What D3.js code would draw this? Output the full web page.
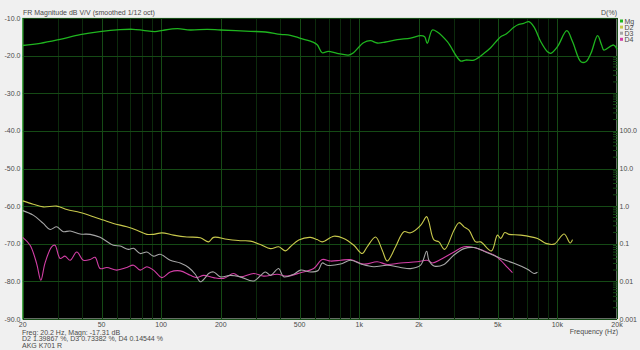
<!DOCTYPE html>
<html>
<head>
<meta charset="utf-8">
<script src="https://cdn.jsdelivr.net/npm/d3@7/dist/d3.min.js"></script>
<style>
  body { margin: 0; background: #f0f0f0; }
  svg { display: block; font-family: "Liberation Sans", Arial, sans-serif; }
  .lbl { fill: #4a4a4a; font-size: 7px; }
</style>
</head>
<body>
<svg id="chart" width="640" height="350"></svg>
<script>
// Frequency ticks (Hz) and their labels
const freqTicks = [20, 50, 100, 200, 500, 1000, 2000, 5000, 10000, 20000];
const freqLabels = ['20', '50', '100', '200', '500', '1k', '2k', '5k', '10k', '20k'];
const dbTicks = [-10, -20, -30, -40, -50, -60, -70, -80, -90];
const pctTicks = [0.001, 0.01, 0.1, 1, 10, 100];
const pctLabels = ['0.001', '0.01', '0.1', '1.0', '10.0', '100.0'];

// Magnitude response, [Hz, dB]
const magnitude = [
  [20, -17.31], [24.5, -16.73], [30.9, -15.66], [39, -14.44], [49, -13.64], [62, -13.11],
  [72, -13.0], [81, -13.27], [93, -13.64], [102, -13.27], [121, -12.85], [140, -13.19],
  [171, -13.0], [199, -13.19], [282, -13.54], [336, -13.72], [400, -14.34], [449, -14.6],
  [505, -15.4], [588, -16.46], [615, -17.18], [650, -19.23], [698, -18.86], [773, -19.39],
  [883, -19.84], [935, -19.23], [1050, -16.57], [1140, -16.04], [1232, -16.65], [1358, -16.38],
  [1556, -15.77], [1816, -15.32], [2041, -14.71], [2138, -14.97], [2204, -16.73], [2338, -13.19],
  [2477, -13.72], [2784, -16.3], [3251, -21.44], [3444, -21.17], [3794, -21.17], [4264, -19.39],
  [4604, -17.9], [5176, -14.97], [5486, -14.34], [6025, -12.47], [6288, -11.86], [6765, -11.41],
  [7175, -10.98], [7603, -12.31], [8248, -16.3], [8915, -18.96], [9260, -19.39], [10010, -17.63],
  [11163, -13.38], [11936, -16.3], [13150, -21.62], [13930, -21.62], [14770, -19.39], [15960, -14.71],
  [16720, -17.18], [17180, -18.51], [19230, -17.18], [20000, -18.32]
];

// 2nd harmonic distortion, [Hz, dB]
const dist2 = [
  [20, -58.6], [22.6, -59.5], [25.4, -60.2], [29.7, -60.0], [33.4, -60.9], [39, -61.7],
  [45.5, -62.8], [51.1, -63.7], [57.4, -64.6], [67.1, -65.5], [75.4, -66.4], [84.7, -67.5],
  [91.5, -67.5], [100.9, -67.1], [115.4, -67.7], [134.9, -68.2], [157.6, -68.4], [173.5, -69.5],
  [183.9, -68.3], [215, -68.8], [251, -69.2], [282, -69.3], [317, -70.2], [356, -71.3],
  [392, -70.8], [424, -71.9], [449, -70.8], [495, -69.0], [567, -68.3], [613, -68.9],
  [650, -69.5], [744, -68.0], [835, -68.6], [939, -70.4], [1035, -72.6], [1097, -70.8],
  [1208, -68.2], [1306, -71.7], [1384, -74.6], [1525, -70.8], [1680, -66.8], [1816, -67.1],
  [2040, -65.1], [2188, -62.8], [2246, -64.2], [2382, -69.0], [2524, -69.5], [2698, -71.5],
  [3006, -66.4], [3186, -64.4], [3378, -65.5], [3580, -66.4], [3870, -69.5], [4102, -69.5],
  [4646, -71.9], [4982, -67.7], [5178, -68.6], [5426, -67.0], [5702, -67.5], [6536, -67.7],
  [7936, -68.6], [8740, -69.9], [9632, -70.1], [10816, -67.4], [11598, -69.8], [11926, -68.9]
];

// 3rd harmonic distortion, [Hz, dB]
const dist3 = [
  [20, -61.2], [22.6, -62.4], [25.4, -64.6], [27.5, -66.2], [29.7, -65.5], [32.1, -66.8],
  [34.7, -66.6], [39, -67.4], [43.8, -67.5], [49.2, -68.3], [57.4, -70.4], [62.1, -70.6],
  [68.4, -71.5], [72.5, -71.2], [78.4, -72.6], [84.7, -72.2], [91.5, -73.3], [98.9, -72.8],
  [111.1, -74.4], [124.8, -75.1], [137.5, -76.3], [148.6, -78.1], [157.6, -80.1], [167, -79.0],
  [173.5, -77.9], [183.9, -77.5], [198.9, -78.8], [223.4, -78.4], [251, -78.8], [293, -79.9],
  [335.8, -77.5], [356, -78.4], [392, -76.6], [415, -78.8], [467, -78.1], [505, -77.0],
  [567, -77.5], [620, -77.1], [650, -75.1], [689, -75.7], [804, -75.4], [903, -74.4],
  [1035, -75.5], [1184, -76.1], [1384, -75.7], [1616, -76.3], [1816, -76.6], [2040, -75.7],
  [2188, -72.0], [2246, -74.4], [2382, -75.9], [2676, -75.5], [3006, -73.0], [3378, -71.3],
  [3794, -71.0], [4434, -72.4], [5178, -73.9], [6044, -75.2], [7064, -76.8], [7630, -77.9],
  [7936, -77.6]
];

// 4th harmonic distortion, [Hz, dB]
const dist4 = [
  [20, -68.3], [21.8, -70.4], [23.5, -75.2], [24.7, -79.7], [25.9, -75.2], [28, -70.8],
  [29.1, -70.4], [30.9, -73.9], [32.7, -73.3], [34.7, -74.4], [37.5, -72.2], [40.5, -74.4],
  [43.8, -74.2], [46.4, -73.6], [49.2, -76.6], [53.2, -76.3], [59.7, -77.0], [67.1, -76.3],
  [72.5, -75.7], [78.4, -77.0], [84.7, -76.1], [91.5, -77.0], [100.9, -79.0], [111.1, -77.5],
  [124.8, -77.2], [140.3, -78.4], [151.6, -79.0], [163.7, -78.4], [183.9, -79.0], [206.6, -79.2],
  [232.2, -77.9], [251, -78.8], [293, -77.9], [329, -78.6], [385, -78.1], [432, -78.6],
  [505, -77.7], [589, -76.6], [650, -74.2], [716, -74.6], [804, -74.4], [903, -74.2],
  [1054, -75.4], [1232, -74.8], [1384, -75.5], [1616, -75.1], [1962, -74.8], [2204, -74.4],
  [2338, -75.1], [2574, -74.2], [3006, -72.2], [3378, -70.8], [3794, -71.0], [4264, -71.9],
  [4788, -73.0], [5178, -74.4], [5598, -76.3], [5934, -77.7]
];

const seriesNames = ['Mg', 'D2', 'D3', 'D4'];
const seriesData = [magnitude, dist2, dist3, dist4];
const seriesColors = ['#1fb51f', '#c8c84c', '#a6a6a6', '#d33fa6'];

const dims = { left: 22.7, top: 18, right: 617, bottom: 319 };
const svg = d3.select('#chart');

// Background
svg.append('rect').attr('width', 640).attr('height', 350).attr('fill', '#f0f0f0');

const xScale = d3.scaleLog().domain([20, 20000]).range([dims.left, dims.right]);
const yScale = d3.scaleLinear().domain([-90, -10]).range([dims.bottom, dims.top]);
// Right axis in %: 0.001 % sits on -90 dB, one decade per 10 dB
const pctScale = d3.scaleLog().domain([0.001, 100]).range([dims.bottom, yScale(-40)]);

// Plot area
svg.append('rect')
  .attr('x', dims.left).attr('y', dims.top)
  .attr('width', dims.right - dims.left).attr('height', dims.bottom - dims.top)
  .attr('fill', '#000')
  .attr('stroke', '#c8d8c8').attr('stroke-width', 1);

const gridG = svg.append('g');

// Vertical grid: every 1-2-...-9 step per decade, labelled ones brighter
const gridFreqs = [];
[10, 100, 1000, 10000].forEach((dec) => {
  for (let m = 1; m <= 9; m += 1) {
    const f = dec * m;
    if (f >= 20 && f <= 20000) gridFreqs.push(f);
  }
});
gridFreqs.push(20000);
gridG.selectAll('line.vgrid')
  .data(gridFreqs)
  .enter().append('line')
  .attr('x1', (f) => Math.round(xScale(f)) + 0.5).attr('x2', (f) => Math.round(xScale(f)) + 0.5)
  .attr('y1', dims.top).attr('y2', dims.bottom)
  .attr('stroke', (f) => (freqTicks.includes(f) ? '#154a15' : '#0c2a0c'))
  .attr('stroke-width', 1);

// Horizontal grid
gridG.selectAll('line.hgrid')
  .data(dbTicks)
  .enter().append('line')
  .attr('x1', dims.left).attr('x2', dims.right)
  .attr('y1', (d) => Math.round(yScale(d)) + 0.5).attr('y2', (d) => Math.round(yScale(d)) + 0.5)
  .attr('stroke', '#154a15').attr('stroke-width', 1);

// Minor ticks of the right log axis
const pctMinor = [];
[0.001, 0.01, 0.1, 1, 10, 100, 1000].forEach((dec) => {
  for (let m = 2; m <= 9; m += 1) pctMinor.push(dec * m);
});
gridG.selectAll('line.pmin')
  .data(pctMinor.filter((p) => pctScale(p) >= dims.top))
  .enter().append('line')
  .attr('x1', dims.right - 4).attr('x2', dims.right)
  .attr('y1', (p) => pctScale(p)).attr('y2', (p) => pctScale(p))
  .attr('stroke', '#154a15');

// Left axis line
svg.append('line')
  .attr('x1', dims.left).attr('x2', dims.left)
  .attr('y1', dims.top).attr('y2', dims.bottom)
  .attr('stroke', '#2e9a2e');

// Curves
const lineGen = d3.line()
  .x((d) => xScale(d[0]))
  .y((d) => yScale(d[1]))
  .curve(d3.curveCatmullRom.alpha(0.5));

svg.append('g')
  .selectAll('path')
  .data(seriesData.slice().reverse())
  .enter().append('path')
  .attr('d', (d) => lineGen(d))
  .attr('fill', 'none')
  .attr('stroke', (d) => seriesColors[seriesData.indexOf(d)])
  .attr('stroke-width', (d) => (d === magnitude ? 1.3 : 1.1));

// Axis labels
svg.selectAll('text.xl')
  .data(freqTicks)
  .enter().append('text')
  .attr('class', 'lbl')
  .attr('x', (f) => xScale(f)).attr('y', 327)
  .attr('text-anchor', 'middle')
  .text((f, i) => freqLabels[i]);

svg.selectAll('text.yl')
  .data(dbTicks)
  .enter().append('text')
  .attr('class', 'lbl')
  .attr('x', 20.5).attr('y', (d) => yScale(d) + 2.5)
  .attr('text-anchor', 'end')
  .text((d) => d.toFixed(1));

svg.selectAll('text.pl')
  .data(pctTicks)
  .enter().append('text')
  .attr('class', 'lbl')
  .attr('x', 619.5).attr('y', (p) => pctScale(p) + 2.5)
  .text((p, i) => pctLabels[i]);

svg.append('text').attr('class', 'lbl')
  .attr('x', 23).attr('y', 15)
  .text('FR Magnitude dB V/V (smoothed 1/12 oct)');
svg.append('text').attr('class', 'lbl')
  .attr('x', 617).attr('y', 15).attr('text-anchor', 'end')
  .text('D(%)');
svg.append('text').attr('class', 'lbl')
  .attr('x', 618).attr('y', 334).attr('text-anchor', 'end')
  .text('Frequency (Hz)');

// Cursor readout
const readout = [
  'Freq: 20.2 Hz, Magn: -17.31 dB',
  'D2 1.39867 %, D3 0.73382 %, D4 0.14544 %',
];
svg.selectAll('text.ro')
  .data(readout)
  .enter().append('text')
  .attr('class', 'lbl')
  .attr('x', 22).attr('y', (d, i) => 334.5 + i * 6.7)
  .text((d) => d);
svg.append('text').attr('class', 'lbl')
  .attr('x', 22).attr('y', 348)
  .text('AKG K701 R');

// Legend
const legend = svg.append('g').selectAll('g')
  .data(seriesNames)
  .enter().append('g')
  .attr('transform', (d, i) => `translate(620,${21 + i * 6.1})`);
legend.append('rect')
  .attr('x', 0).attr('y', -1.5).attr('width', 3).attr('height', 3)
  .attr('fill', (d, i) => seriesColors[i]);
legend.append('text')
  .attr('class', 'lbl')
  .attr('x', 4.5).attr('y', 2.5)
  .text((d) => d);
</script>
</body>
</html>
